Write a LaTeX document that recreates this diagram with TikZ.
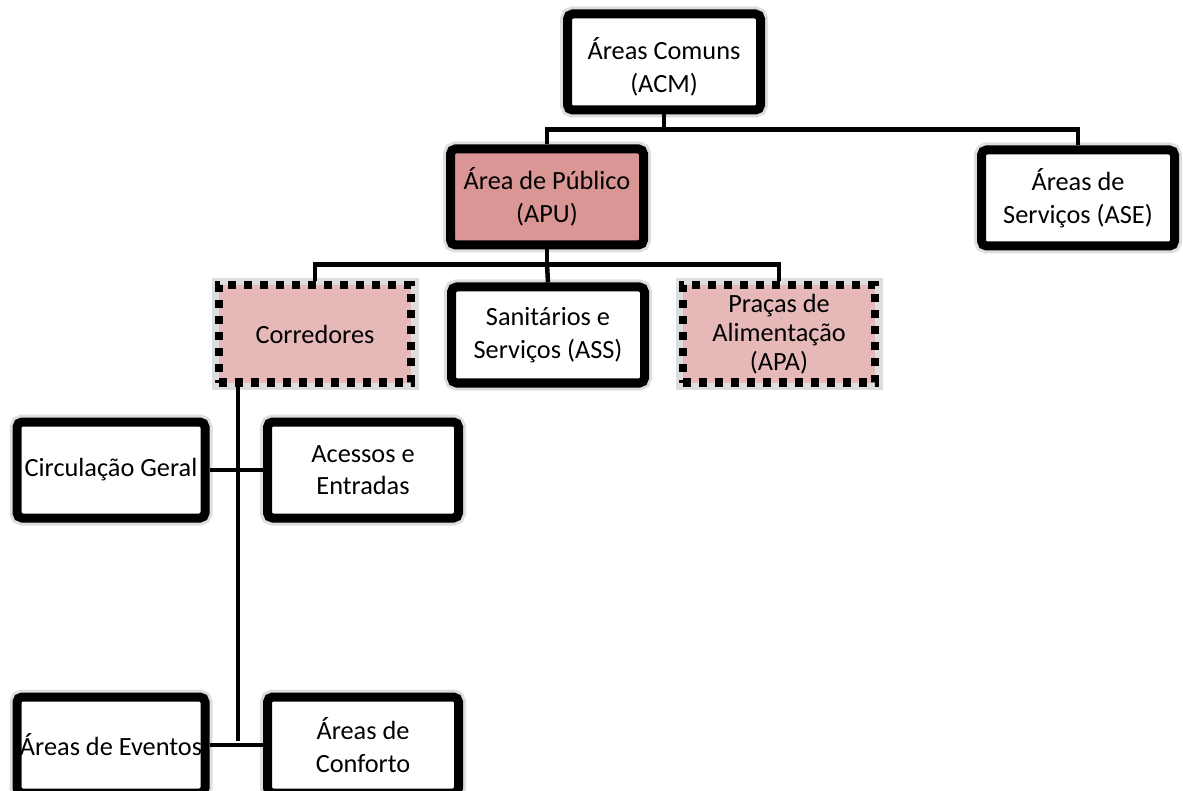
\documentclass[tikz,border=0pt]{standalone}
\usepackage{fontspec}
\setmainfont{Carlito}
\definecolor{apufill}{RGB}{217,150,148}
\definecolor{softfill}{RGB}{230,185,184}
\tikzset{
  every node/.style={font=\fontsize{26.3}{32.5}\selectfont, align=center, inner sep=0pt},
  halo/.style={preaction={draw=black!13, solid, line width=15pt}},
  unit/.style={halo, draw=black, line width=9pt, rounded corners=5pt, fill=white,
    minimum width=193pt, minimum height=96pt},
  pinkunit/.style={unit, fill=apufill},
  dotunit/.style={halo, draw=black, line width=8pt, fill=softfill, sharp corners,
    dash pattern=on 8pt off 8pt, minimum width=192pt, minimum height=97pt},
  link/.style={draw=black, line width=4.5pt}
}
\begin{document}
\begin{tikzpicture}[x=1pt, y=-1pt]
  \useasboundingbox (0,0) rectangle (1183,791);
  \clip (0,0) rectangle (1183,791);

  % top level
  \node[unit] (acm) at (664,62) {\rule{0pt}{32pt}Áreas Comuns\\(ACM)};

  % second level
  \node[pinkunit] (apu) at (547,197) {Área de Público\\(APU)};
  \node[unit] (ase) at (1078,198) {Áreas de\\Serviços (ASE)};

  % third level
  \node[dotunit] (cor) at (315,334) {Corredores};
  \node[unit] (ass) at (548,335) {Sanitários e\\Serviços (ASS)};
  \node[dotunit, font=\fontsize{26.3}{29}\selectfont] (apa) at (779,334)
    {Praças de\\Alimentação\\(APA)};

  % corridor subdivisions
  \node[unit, minimum width=188pt] (circ) at (111,470) {Circulação Geral};
  \node[unit, minimum width=191pt] (aces) at (363,470) {Acessos e\\Entradas};
  \node[unit, minimum width=188pt] (even) at (111,745) {Áreas de Eventos};
  \node[unit, minimum width=191pt] (conf) at (363,745) {Áreas de\\Conforto};

  % connectors
  \draw[link] (acm.south) -- ++(0,15) coordinate (j1) -| (apu.north);
  \draw[link] (j1) -| (ase.north);
  \draw[link] (apu.south) -- ++(0,15) coordinate (j2) -| (cor.north);
  \draw[link] (j2) -| (apa.north);
  \draw[link] (j2) -- (ass.north);

  \coordinate (trunk) at (238,741);
  \draw[link] (cor.south -| trunk) -- (trunk);
  \draw[link] (circ.east) -- (aces.west);
  \draw[link] (even.east) -- (conf.west);
\end{tikzpicture}
\end{document}
